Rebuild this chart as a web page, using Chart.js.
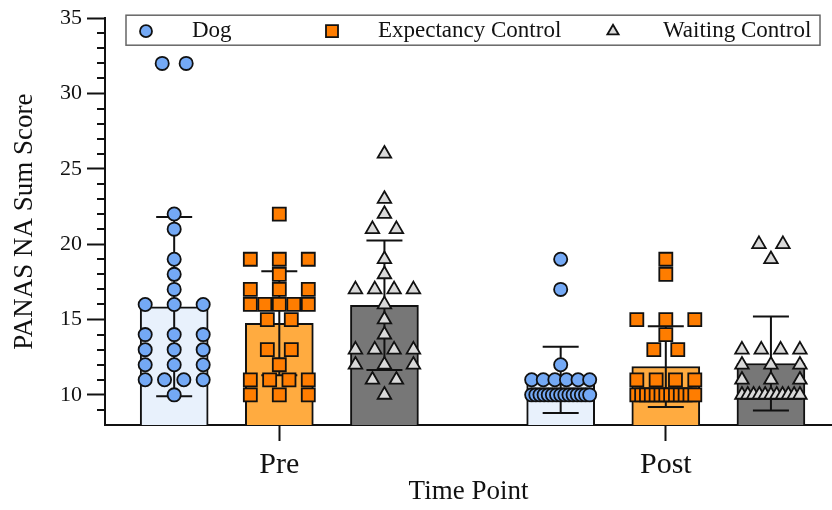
<!DOCTYPE html>
<html>
<head>
<meta charset="utf-8">
<title>PANAS NA Sum Score</title>
<script src="https://cdn.jsdelivr.net/npm/chart.js@4.4.1/dist/chart.umd.min.js"></script>
<style>
    html, body { margin: 0; padding: 0; background: #fff; }
    #wrap { width: 832px; height: 510px; }
</style>
</head>
<body>
<div id="wrap"><canvas id="mainChart" width="832" height="510"></canvas></div>
<script>
// --- DATA ---
const timePoints = ['Pre', 'Post'];
const groups = ['Dog', 'Expectancy Control', 'Waiting Control'];
const yTicks = [10, 15, 20, 25, 30, 35];

// individual scores
const dogPre = [32, 32, 22, 21, 19, 18, 17, 16, 16, 16, 14, 14, 14, 13, 13, 13, 12, 12, 12, 11, 11, 11, 11, 10];
const dogPost = [19, 17, 12, 11, 11, 11, 11, 11, 11, 10, 10, 10, 10, 10, 10, 10, 10, 10, 10, 10, 10, 10, 10, 10];
const expPre = [22, 19, 19, 19, 18, 17, 17, 17, 16, 16, 16, 16, 16, 15, 15, 13, 13, 12, 11, 11, 11, 11, 10, 10, 10];
const expPost = [19, 18, 15, 15, 15, 14, 13, 13, 11, 11, 11, 11, 10, 10, 10, 10, 10, 10, 10, 10, 10, 10, 10, 10, 10];
const waitPre = [26, 23, 22, 21, 21, 19, 18, 17, 17, 17, 17, 16, 15, 14, 13, 13, 13, 13, 12, 12, 12, 11, 11, 10];
const waitPost = [20, 20, 19, 13, 13, 13, 13, 12, 12, 12, 11, 11, 11, 10, 10, 10, 10, 10, 10, 10, 10, 10, 10, 10];

// bar heights (mean) and error bars (SD), Pre / Post
const dogMean = [15.85, 11.0];
const dogSD = [5.95, 2.2];
const expMean = [14.75, 11.88];
const expSD = [3.45, 2.68];
const waitMean = [15.95, 12.08];
const waitSD = [4.3, 3.12];

// --- LAYOUT / STYLE ---
const FONT = "'Liberation Serif', 'Times New Roman', serif";
const INK = '#111';
const groupOffset = [-0.272, 0, 0.272];   // x offset of each group from its time point
const WIDE = 0.075;    // half spread of a row of 3+ points
const NARROW = 0.031;  // half spread of a row of 2 points

const barColors = ['#e8f1fc', '#ffab40', '#777777'];
const pointColors = ['#74a9f5', '#ff7d00', '#d9d9d9'];
const pointStyles = ['circle', 'rect', 'triangle'];
const pointSizes = [6.6, 9.2, 7.8];

// spread points that share a value across the bar, like a column scatter
function spread(values, center) {
    const counts = {};
    values.forEach(v => counts[v] = (counts[v] || 0) + 1);
    const seen = {};
    return values.map(v => {
        const n = counts[v];
        const k = seen[v] = (seen[v] === undefined ? 0 : seen[v] + 1);
        let dx = 0;
        if (n === 2) dx = k === 0 ? -NARROW : NARROW;
        else if (n > 2) dx = -WIDE + 2 * WIDE * k / (n - 1);
        return { x: center + dx, y: v };
    });
}

const scores = [[dogPre, dogPost], [expPre, expPost], [waitPre, waitPost]];
const means = [dogMean, expMean, waitMean];
const sds = [dogSD, expSD, waitSD];

const barSets = groups.map((g, gi) => ({
    type: 'bar',
    label: g,
    data: timePoints.map((t, ti) => ({ x: ti + 1 + groupOffset[gi], y: means[gi][ti] })),
    backgroundColor: barColors[gi],
    borderColor: INK,
    borderWidth: 2,
    barThickness: 68,
    grouped: false,
    order: 3,
    errIndex: gi
}));

const pointSets = groups.map((g, gi) => ({
    type: 'scatter',
    label: g,
    data: timePoints.flatMap((t, ti) => spread(scores[gi][ti], ti + 1 + groupOffset[gi])),
    pointStyle: pointStyles[gi],
    pointRadius: pointSizes[gi],
    pointBackgroundColor: pointColors[gi],
    pointBorderColor: INK,
    pointBorderWidth: 1.8,
    order: 1
}));

// --- PLUGINS ---
const errorBars = {
    id: 'errorBars',
    afterDatasetDraw(chart, args) {
        const ds = chart.data.datasets[args.index];
        if (ds.type !== 'bar') return;
        const gi = ds.errIndex;
        const xs = chart.scales.x, ys = chart.scales.y, ctx = chart.ctx;
        ctx.save();
        ctx.strokeStyle = INK;
        ctx.lineWidth = 2;
        timePoints.forEach((t, ti) => {
            const x = xs.getPixelForValue(ti + 1 + groupOffset[gi]);
            const top = ys.getPixelForValue(means[gi][ti] + sds[gi][ti]);
            const bot = ys.getPixelForValue(means[gi][ti] - sds[gi][ti]);
            ctx.beginPath();
            ctx.moveTo(x, top); ctx.lineTo(x, bot);
            ctx.moveTo(x - 18, top); ctx.lineTo(x + 18, top);
            ctx.moveTo(x - 18, bot); ctx.lineTo(x + 18, bot);
            ctx.stroke();
        });
        ctx.restore();
    }
};

const minorTicks = {
    id: 'minorTicks',
    afterDraw(chart) {
        const ys = chart.scales.y, ctx = chart.ctx;
        const x0 = chart.chartArea.left;
        ctx.save();
        ctx.strokeStyle = INK;
        ctx.lineWidth = 2;
        for (let v = Math.ceil(ys.min) + 1; v < ys.max; v++) {
            if (yTicks.includes(v)) continue;
            const y = Math.round(ys.getPixelForValue(v));
            ctx.beginPath();
            ctx.moveTo(x0 - 8, y); ctx.lineTo(x0, y);
            ctx.stroke();
        }
        ctx.restore();
    }
};

const boxLegend = {
    id: 'boxLegend',
    afterDraw(chart) {
        const ctx = chart.ctx, area = chart.chartArea;
        const left = area.left + 21, right = area.right - 12;
        const top = area.top - 3, h = 30;
        const markerX = [20, 206, 487];
        const textX = [66, 252, 537];
        const legendSizes = [6, 8.5, 6.5];
        ctx.save();
        ctx.fillStyle = '#fff';
        ctx.fillRect(left, top, right - left, h);
        ctx.strokeStyle = '#666';
        ctx.lineWidth = 1.5;
        ctx.strokeRect(left, top, right - left, h);
        const cy = top + h / 2 + 1;
        groups.forEach((g, gi) => {
            ctx.fillStyle = pointColors[gi];
            ctx.strokeStyle = INK;
            ctx.lineWidth = 1.8;
            Chart.helpers.drawPoint(ctx, {
                pointStyle: pointStyles[gi], radius: legendSizes[gi], borderWidth: 1.8, rotation: 0
            }, left + markerX[gi], cy);
            ctx.fillStyle = INK;
            ctx.font = '23px ' + FONT;
            ctx.textAlign = 'left';
            ctx.textBaseline = 'middle';
            ctx.fillText(g, left + textX[gi], cy);
        });
        ctx.restore();
    }
};

// --- CHART ---
Chart.defaults.font.family = FONT;
Chart.defaults.color = INK;

new Chart(document.getElementById('mainChart'), {
    type: 'bar',
    data: { datasets: [...barSets, ...pointSets] },
    options: {
        responsive: false,
        animation: false,
        layout: { autoPadding: false, padding: { top: 17, right: 0, bottom: 0, left: 0 } },
        plugins: { legend: { display: false }, tooltip: { enabled: false } },
        scales: {
            x: {
                type: 'linear',
                min: 0.549,
                max: 2.43,
                offset: false,
                afterBuildTicks: s => { s.ticks = timePoints.map((t, i) => ({ value: i + 1 })); },
                afterFit: s => { s.height = 85; s.paddingLeft = 0; s.paddingRight = 0; },
                ticks: {
                    callback: v => timePoints[v - 1] || '',
                    font: { size: 30 },
                    color: INK,
                    padding: 6,
                    autoSkip: false,
                    maxRotation: 0
                },
                grid: { offset: false, drawOnChartArea: false, tickLength: 16, tickWidth: 2, tickColor: INK },
                border: { color: INK, width: 2 },
                title: { display: true, text: 'Time Point', font: { size: 27 }, color: INK, padding: { top: 0, bottom: 2 } }
            },
            y: {
                min: 8,
                max: 35,
                afterBuildTicks: s => { s.ticks = yTicks.map(v => ({ value: v })); },
                afterFit: s => { s.width = 105; },
                ticks: { font: { size: 22 }, color: INK, padding: 5 },
                grid: { drawOnChartArea: false, tickLength: 18, tickWidth: 2, tickColor: INK },
                border: { color: INK, width: 2 },
                title: { display: true, text: 'PANAS NA Sum Score', font: { size: 27 }, color: INK, padding: { top: 9, bottom: 0 } }
            }
        }
    },
    plugins: [errorBars, minorTicks, boxLegend]
});
</script>
</body>
</html>
